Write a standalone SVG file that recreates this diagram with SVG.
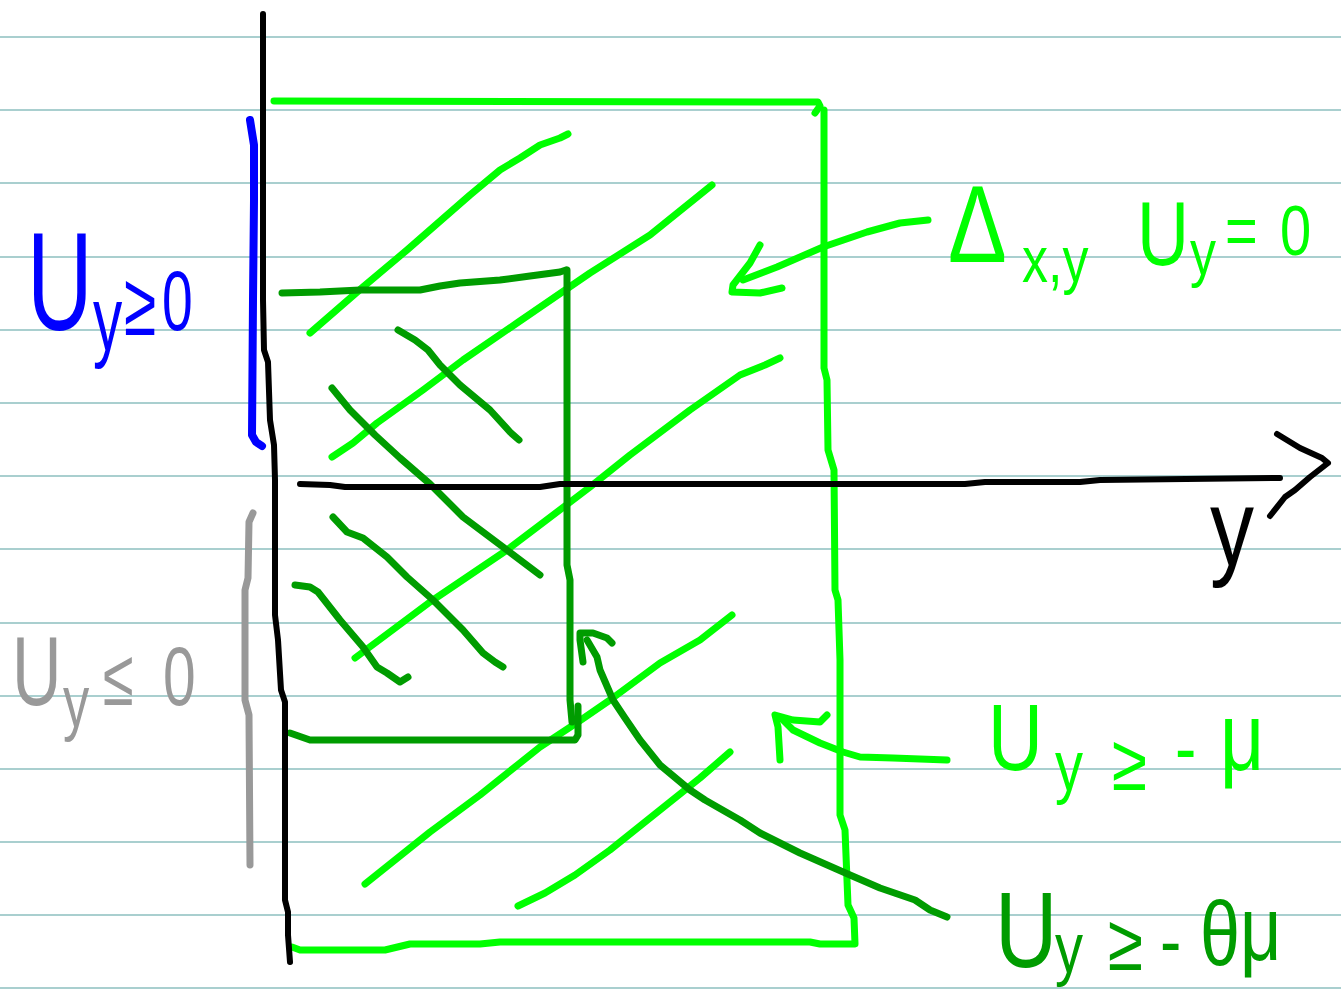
<svg xmlns="http://www.w3.org/2000/svg" width="1341" height="1004" viewBox="0 0 1341 1004">
<style>
.rule{stroke:#a9cfcf;stroke-width:2}
.s{fill:none;stroke-linecap:round;stroke-linejoin:round}
.k{stroke:#000;stroke-width:6}
.lg{stroke:#00ff00;stroke-width:7}
.dg{stroke:#009c00;stroke-width:7}
.bl{stroke:#0000ff;stroke-width:8}
.gr{stroke:#999;stroke-width:7}
.t{font-family:"Liberation Sans",Arial,sans-serif}
</style>
<rect width="1341" height="1004" fill="#fff"/>
<g id="rules">
<line class="rule" x1="0" y1="37" x2="1341" y2="37"/>
<line class="rule" x1="0" y1="110" x2="1341" y2="110"/>
<line class="rule" x1="0" y1="183" x2="1341" y2="183"/>
<line class="rule" x1="0" y1="257" x2="1341" y2="257"/>
<line class="rule" x1="0" y1="330" x2="1341" y2="330"/>
<line class="rule" x1="0" y1="403" x2="1341" y2="403"/>
<line class="rule" x1="0" y1="476" x2="1341" y2="476"/>
<line class="rule" x1="0" y1="549" x2="1341" y2="549"/>
<line class="rule" x1="0" y1="623" x2="1341" y2="623"/>
<line class="rule" x1="0" y1="696" x2="1341" y2="696"/>
<line class="rule" x1="0" y1="769" x2="1341" y2="769"/>
<line class="rule" x1="0" y1="842" x2="1341" y2="842"/>
<line class="rule" x1="0" y1="915" x2="1341" y2="915"/>
<line class="rule" x1="0" y1="988" x2="1341" y2="988"/>
</g>
<g id="hatch-light" class="s lg">
<polyline points="310,333 363,287 407,250 470,195 500,170 520,158 540,145 560,138 568,134"/>
<polyline points="332,457 353,443 377,423 423,390 463,360 517,323 590,273 650,235 712,185"/>
<polyline points="355,658 430,602 507,550 590,487 630,455 690,410 740,375 765,365 780,358"/>
<polyline points="365,884 430,832 480,795 540,747 578,722 610,700 660,663 700,640 732,615"/>
<polyline points="518,906 545,893 575,875 610,850 660,810 700,778 730,752"/>
</g>
<g id="hatch-dark" class="s dg">
<polyline points="398,330 415,340 428,350 440,365 460,385 490,410 510,432 519,440"/>
<polyline points="332,388 350,410 375,435 400,458 430,484 463,517 503,547 540,575"/>
<polyline points="333,517 347,532 363,538 387,557 407,577 433,600 463,630 483,653 495,662 503,667"/>
<polyline points="295,585 310,587 318,592 340,620 363,647 377,667 387,673 400,682 408,677"/>
</g>
<g id="region-light" class="s lg">
<polyline points="274,101 818,102 820,106 815,113"/>
<polyline points="824,110 824,368 827,380 828,450 834,470 835,590 838,600 840,660 840,815 845,830 848,905 854,918 855,944 820,944 810,942 500,942 480,944 410,944 385,950 300,950 292,947"/>
</g>
<g id="region-dark" class="s dg">
<polyline points="282,293 320,292 360,290 420,290 440,286 460,283 500,280 530,276 560,272 566,270"/>
<polyline points="567,270 567,565 570,580 570,700 572,722"/>
<polyline points="290,733 310,740 575,740 578,735 578,706"/>
</g>
<g id="axes" class="s k">
<polyline points="263,14 263,300 264,350 268,362 270,420 274,445 275,480 275,615 278,640 281,690 285,702 285,900 288,912 288,935 290,962"/>
<polyline points="300,484 330,485 345,487 540,487 560,484 965,484 985,482 1080,482 1100,480 1280,478"/>
<polyline points="1277,434 1300,448 1322,458 1328,463 1310,477 1295,490 1285,497 1270,516"/>
</g>
<g id="brackets" class="s">
<polyline class="bl" points="250,120 254,145 254,200 253,300 252,435 256,442 262,446"/>
<polyline class="gr" points="253,513 249,522 248,578 245,590 245,700 249,715 250,865"/>
</g>
<g id="connectors" class="s">
<polyline class="lg" points="928,220 900,223 867,232 823,247 777,267 743,280"/>
<polyline class="lg" points="760,245 750,263 733,285 732,292 760,293 782,288"/>
<polyline class="lg" points="947,760 893,758 860,757 843,752 820,743 793,730 783,720"/>
<polyline class="lg" points="780,760 778,727 775,715 793,720 820,722 827,715"/>
<polyline class="dg" points="947,917 930,910 915,900 880,888 850,875 800,853 760,833 740,820 705,800 690,790 660,765 640,740 625,718 613,700 600,670 597,657 587,640"/>
<polyline class="dg" points="583,662 580,640 580,633 593,633 607,638 612,643"/>
</g>
<g id="label-uy-ge-0">
<text class="t" fill="#0000ff" transform="scale(0.65,1)"><tspan x="41.5" y="330" font-size="140">U</tspan><tspan x="143.1" y="350" font-size="90">y</tspan><tspan x="190.8" y="335" font-size="90">≥</tspan><tspan x="249.2" y="330" font-size="85">0</tspan></text>
</g>
<g id="label-uy-le-0">
<text class="t" fill="#999" transform="scale(0.7,1)"><tspan x="17.1" y="705" font-size="98">U</tspan><tspan x="90" y="727" font-size="75">y</tspan><tspan x="147.1" y="705" font-size="80">≤</tspan><tspan x="232.9" y="705" font-size="84">0</tspan></text>
</g>
<g id="label-laplace">
<text class="t" fill="#00ff00" transform="scale(0.8,1)"><tspan x="1185" y="262" font-size="110">Δ</tspan><tspan x="1277.5" y="282" font-size="65">x,y</tspan><tspan x="1421.25" y="265" font-size="90">U</tspan><tspan x="1487.5" y="275" font-size="65">y</tspan><tspan x="1531.25" y="255" font-size="70">=</tspan><tspan x="1600" y="255" font-size="70">0</tspan></text>
</g>
<g id="label-mu">
<text class="t" fill="#00ff00" transform="scale(0.8,1)"><tspan x="1235" y="770" font-size="95">U</tspan><tspan x="1318.75" y="790" font-size="70">y</tspan><tspan x="1390" y="790" font-size="80">≥</tspan><tspan x="1468.75" y="775" font-size="80">-</tspan><tspan x="1525" y="770" font-size="96">μ</tspan></text>
</g>
<g id="label-theta-mu">
<text class="t" fill="#009c00" transform="scale(0.8,1)"><tspan x="1243.75" y="967" font-size="108">U</tspan><tspan x="1318.75" y="972" font-size="70">y</tspan><tspan x="1385" y="970" font-size="80">≥</tspan><tspan x="1450" y="968" font-size="80">-</tspan><tspan x="1500" y="965" font-size="90">θ</tspan><tspan x="1550" y="960" font-size="90">μ</tspan></text>
</g>
<g id="label-y-axis">
<text class="t" fill="#000" transform="scale(0.8,1)" x="1512.5" y="565" font-size="110">y</text>
</g>
</svg>
